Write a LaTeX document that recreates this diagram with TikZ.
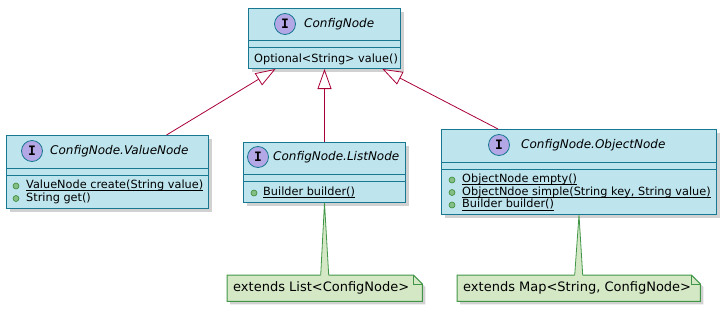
\documentclass[tikz,border=0pt]{standalone}
\usepackage{fontspec}
\setmainfont{DejaVu Sans}
\newfontfamily\spotfont{DejaVu Sans Mono}
\usepackage{tikz}
\usetikzlibrary{arrows.meta, positioning, shadows}
\usepackage{xcolor}

\definecolor{boxfill}{RGB}{190,228,237}
\definecolor{boxline}{RGB}{24,120,145}
\definecolor{spotfill}{RGB}{180,167,229}
\definecolor{extline}{RGB}{168,0,54}
\definecolor{notefill}{RGB}{212,232,198}
\definecolor{noteline}{RGB}{64,150,70}
\definecolor{pubfill}{RGB}{132,190,132}
\definecolor{publine}{RGB}{56,138,56}

% static members are underlined at a fixed depth
\newsavebox{\staticbox}
\newcommand{\static}[1]{\sbox\staticbox{#1}\rlap{\usebox\staticbox}\rule[-2.6pt]{\wd\staticbox}{0.8pt}}

\begin{document}
\begin{tikzpicture}[
    x=1pt, y=-1pt,
    classbox/.style = {rectangle, draw=boxline, fill=boxfill, line width=1pt, inner sep=0pt, anchor=north west, drop shadow={shadow xshift=3pt, shadow yshift=-3pt, fill=black!30, opacity=0.6}},
    classline/.style = {draw=boxline, line width=1pt},
    spot/.style = {circle, draw=boxline, fill=spotfill, line width=0.8pt, inner sep=0pt, minimum size=21pt, font=\fontsize{13}{15}\spotfont\bfseries},
    classname/.style = {anchor=west, inner sep=0pt, font=\fontsize{12}{14}\selectfont\itshape},
    member/.style = {anchor=base west, inner sep=0pt, font=\fontsize{11.3}{13}\selectfont},
    pub/.style = {circle, draw=publine, fill=pubfill, line width=0.6pt, inner sep=0pt, minimum size=6pt},
    notebox/.style = {rectangle, inner sep=0pt, anchor=north west},
    notetext/.style = {anchor=west, inner sep=0pt, font=\fontsize{13}{15}\selectfont},
    noteshape/.style = {draw=noteline, fill=notefill, line width=1pt, line join=miter},
    extends/.style = {draw=extline, line width=0.8pt, -{Triangle[open, length=20pt, width=14pt, fill=white]}},
    notelink/.style = {draw=noteline, line width=0.8pt}
]
\useasboundingbox (0,0) rectangle (726,311);

% ConfigNode
\node (cn) [classbox, minimum width=152pt, minimum height=60pt] at (248,8) {};
\draw [classline] ([yshift=-32pt]cn.north west) -- ([yshift=-32pt]cn.north east);
\draw [classline] ([yshift=-39pt]cn.north west) -- ([yshift=-39pt]cn.north east);
\node (cnspot) [spot] at (285,24) {I};
\node (cnname) [classname] at (304,24) {ConfigNode};
\node (cnm1) [member] at (254,62) {Optional<String> value()};

% ValueNode
\node (vn) [classbox, minimum width=202pt, minimum height=73pt] at (6,135) {};
\draw [classline] ([yshift=-33pt]vn.north west) -- ([yshift=-33pt]vn.north east);
\draw [classline] ([yshift=-40pt]vn.north west) -- ([yshift=-40pt]vn.north east);
\node (vnspot) [spot] at (32,151) {I};
\node (vnname) [classname] at (50,151) {ConfigNode.ValueNode};
\node (vnp1) [pub] at (16,186) {};
\node (vnm1) [member] at (26,188.5) {\static{ValueNode create(String value)}};
\node (vnp2) [pub] at (16,198.5) {};
\node (vnm2) [member] at (26,201) {String get()};

% ListNode
\node (ln) [classbox, minimum width=162pt, minimum height=60pt] at (243,142) {};
\draw [classline] ([yshift=-32pt]ln.north west) -- ([yshift=-32pt]ln.north east);
\draw [classline] ([yshift=-39pt]ln.north west) -- ([yshift=-39pt]ln.north east);
\node (lnspot) [spot] at (258,157) {I};
\node (lnname) [classname] at (273,157) {ConfigNode.ListNode};
\node (lnp1) [pub] at (254,193) {};
\node (lnm1) [member] at (263,195.5) {\static{Builder builder()}};

% ObjectNode
\node (on) [classbox, minimum width=275pt, minimum height=85pt] at (441,129) {};
\draw [classline] ([yshift=-33pt]on.north west) -- ([yshift=-33pt]on.north east);
\draw [classline] ([yshift=-40pt]on.north west) -- ([yshift=-40pt]on.north east);
\node (onspot) [spot] at (499,145) {I};
\node (onname) [classname] at (521,145) {ConfigNode.ObjectNode};
\node (onp1) [pub] at (452,180) {};
\node (onm1) [member] at (462,182.3) {\static{ObjectNode empty()}};
\node (onp2) [pub] at (452,192.5) {};
\node (onm2) [member] at (462,195) {\static{ObjectNdoe simple(String key, String value)}};
\node (onp3) [pub] at (452,205) {};
\node (onm3) [member] at (462,207.7) {\static{Builder builder()}};

% Inheritance
\draw [extends] ([xshift=59pt]vn.north) -- ([xshift=-49pt]cn.south);
\draw [extends] (ln.north) -- (cn.south);
\draw [extends] ([xshift=-81pt]on.north) -- ([xshift=58pt]cn.south);

% Notes
\node (lnote) [notebox, minimum width=195pt, minimum height=26pt] at (227,275) {};
\filldraw [noteshape, drop shadow={shadow xshift=3pt, shadow yshift=-3pt, fill=black!30, opacity=0.6}] (lnote.north west) -- ([xshift=-9pt]lnote.north east) -- ([yshift=-9pt]lnote.north east) -- (lnote.south east) -- (lnote.south west) -- cycle;
\draw [noteshape, fill=none] ([xshift=-9pt]lnote.north east) |- ([yshift=-9pt]lnote.north east);
\node (lnotetext) [notetext] at (233,288) {extends List<ConfigNode>};
\fill [notefill] (ln.south) -- ([xshift=-4pt, yshift=-1pt]lnote.north) -- ([xshift=4pt, yshift=-1pt]lnote.north) -- cycle;
\draw [notelink] ([xshift=-4pt]lnote.north) -- (ln.south) -- ([xshift=4pt]lnote.north);

\node (onote) [notebox, minimum width=243pt, minimum height=26pt] at (457,275) {};
\filldraw [noteshape, drop shadow={shadow xshift=3pt, shadow yshift=-3pt, fill=black!30, opacity=0.6}] (onote.north west) -- ([xshift=-9pt]onote.north east) -- ([yshift=-9pt]onote.north east) -- (onote.south east) -- (onote.south west) -- cycle;
\draw [noteshape, fill=none] ([xshift=-9pt]onote.north east) |- ([yshift=-9pt]onote.north east);
\node (onotetext) [notetext] at (463,288) {extends Map<String, ConfigNode>};
\fill [notefill] (on.south) -- ([xshift=-4pt, yshift=-1pt]onote.north) -- ([xshift=4pt, yshift=-1pt]onote.north) -- cycle;
\draw [notelink] ([xshift=-4pt]onote.north) -- (on.south) -- ([xshift=4pt]onote.north);

\end{tikzpicture}
\end{document}
